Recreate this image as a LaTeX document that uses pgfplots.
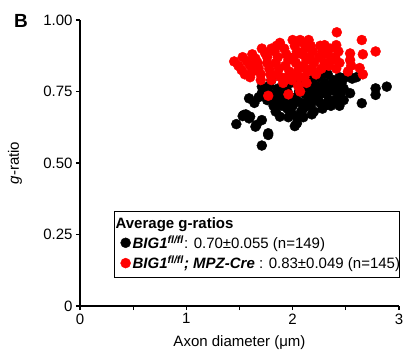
\documentclass[border=0pt]{standalone}
\usepackage{fontspec}
\setmainfont{Liberation Sans}
\usepackage{pgfplots}
\pgfplotsset{compat=1.18}
\begin{document}
\begin{tikzpicture}
\useasboundingbox (-80pt,-52pt) rectangle (323pt,306pt);
\begin{axis}[
  scale only axis, width=319pt, height=286pt,
  xmin=0, xmax=3, ymin=0, ymax=1,
  axis lines=left, axis line style={-, line width=1.1pt},
  xtick={0,1,2,3}, minor xtick={0.5,1.5,2.5},
  ytick={0,0.25,0.5,0.75,1}, yticklabels={0,0.25,0.50,0.75,1.00},
  xticklabels={0,1,2,3},
  tick align=outside, major tick length=4pt, minor tick length=4pt,
  tick style={line width=1.1pt, black},
  /pgf/number format/assume math mode=true,
  tick label style={font=\fontsize{15}{18}\selectfont},
  every axis x label/.style={at={(axis description cs:0.5,0)}, anchor=center, yshift=-37pt, font=\fontsize{15}{18}\selectfont},
  every axis y label/.style={at={(axis description cs:0,0.5)}, rotate=90, anchor=center, yshift=65pt, font=\fontsize{15}{18}\selectfont},
  xlabel={Axon diameter (μm)},
  ylabel={\textit{g}-ratio},
  clip=false,
  legend style={at={(axis cs:0.32,0.332)}, anchor=north west, xshift=4pt, yshift=-2pt, draw=none, fill=none,
    font=\fontsize{15}{18}\selectfont, inner xsep=2pt, inner ysep=2pt, row sep=2pt},
  legend cell align=left,
  legend image code/.code={\draw[mark repeat=2,mark phase=2,#1] plot coordinates {(0cm,0cm)(0.19cm,0cm)(0.45cm,0cm)};},
]
\addlegendimage{empty legend}
\addlegendentry{\hspace*{-17pt}\textbf{Average g-ratios}}
\addplot[only marks, mark=*, mark size=5pt, black] coordinates {
(1.47,0.636)(1.53,0.664)(1.56,0.67)(1.59,0.656)(1.65,0.627)(1.71,0.65)(1.71,0.561)(1.77,0.598)(1.59,0.726)
(1.54,0.668)(1.60,0.662)(1.66,0.633)(1.77,0.604)(1.71,0.744)(1.83,0.703)(1.88,0.662)(1.99,0.674)
(1.71,0.767)(1.80,0.79)(1.68,0.73)(1.74,0.76)
(1.72,0.745)(1.76,0.72)(1.80,0.74)(1.82,0.70)(1.85,0.72)(1.88,0.74)(1.90,0.70)(1.93,0.73)(1.95,0.75)
(1.97,0.71)(2.00,0.70)(2.02,0.629)(2.04,0.662)(2.04,0.639)(2.03,0.73)(2.06,0.75)(2.08,0.71)(2.10,0.69)
(2.12,0.74)(2.14,0.76)(2.15,0.72)(2.17,0.70)(2.20,0.68)(2.20,0.75)(2.22,0.77)(2.24,0.73)(2.26,0.71)
(2.28,0.69)(2.28,0.76)(2.30,0.78)(2.32,0.74)(2.34,0.72)(2.36,0.76)(2.38,0.79)(2.40,0.75)(2.42,0.77)
(2.44,0.80)(2.46,0.78)(2.48,0.72)(2.50,0.80)(2.52,0.81)(2.54,0.744)(2.56,0.795)(2.65,0.709)
(2.78,0.738)(2.78,0.761)(2.885,0.767)(2.60,0.80)(2.40,0.72)(2.30,0.70)(2.18,0.67)(2.10,0.66)
(1.95,0.69)(1.92,0.77)(1.98,0.78)(2.05,0.79)(2.12,0.78)(2.18,0.79)(2.25,0.80)(2.33,0.81)(2.36,0.70)
(2.45,0.74)(1.86,0.76)(1.78,0.77)(1.64,0.71)(2.08,0.68)(2.22,0.72)(2.14,0.70)(2.02,0.72)(1.90,0.72)
(2.26,0.75)(2.32,0.77)(2.40,0.78)(2.48,0.76)(1.84,0.68)(1.96,0.66)(2.16,0.74)(2.44,0.70)
};
\addlegendentry{\textbf{\textit{BIG1}}\textsuperscript{\textbf{\textit{fl/fl}}}: 0.70±0.055 (n=149)}
\addplot[only marks, mark=*, mark size=5pt, red] coordinates {
(1.45,0.855)(1.49,0.84)(1.52,0.825)(1.55,0.81)
(1.53,0.87)(1.57,0.855)(1.60,0.84)(1.62,0.82)(1.60,0.80)
(1.62,0.88)(1.65,0.865)(1.67,0.85)(1.68,0.83)(1.70,0.81)(1.70,0.79)
(1.71,0.90)(1.74,0.885)(1.76,0.87)(1.76,0.85)(1.78,0.83)(1.79,0.81)(1.80,0.79)(1.77,0.735)
(1.80,0.90)(1.83,0.89)(1.85,0.91)(1.88,0.92)(1.86,0.87)(1.84,0.85)(1.87,0.83)(1.85,0.81)(1.89,0.80)(1.91,0.78)
(1.92,0.90)(1.94,0.88)(1.96,0.86)(1.93,0.84)(1.97,0.82)(1.95,0.80)(1.96,0.74)(1.99,0.79)
(2.00,0.93)(2.02,0.91)(2.04,0.89)(2.01,0.87)(2.03,0.85)(2.06,0.83)(2.02,0.81)(2.07,0.80)(2.05,0.77)(2.07,0.75)
(2.07,0.93)(2.10,0.92)(2.12,0.90)(2.09,0.88)(2.13,0.86)(2.10,0.84)(2.14,0.82)(2.11,0.80)(2.13,0.78)
(2.15,0.93)(2.17,0.91)(2.19,0.89)(2.16,0.87)(2.20,0.85)(2.18,0.83)(2.22,0.81)
(2.26,0.91)(2.30,0.912)(2.28,0.89)(2.25,0.87)(2.30,0.85)(2.27,0.83)
(2.35,0.90)(2.33,0.88)(2.37,0.86)(2.34,0.84)
(2.415,0.957)(2.41,0.912)(2.43,0.89)(2.40,0.87)(2.44,0.85)(2.41,0.83)
(2.54,0.883)(2.54,0.86)(2.55,0.84)(2.52,0.82)
(2.65,0.93)(2.66,0.88)(2.66,0.81)(2.63,0.832)(2.78,0.89)
};
\addlegendentry{\textbf{\textit{BIG1}}\textsuperscript{\textbf{\textit{fl/fl}}}\textbf{\textit{; MPZ-Cre}} : 0.83±0.049 (n=145)}
\draw[line width=1pt] (axis cs:0.32,0.101) rectangle (axis cs:3.0,0.332);
\end{axis}
\node[font=\fontsize{19}{22}\selectfont\bfseries] at (-59pt,285pt) {B};
\end{tikzpicture}
\end{document}
